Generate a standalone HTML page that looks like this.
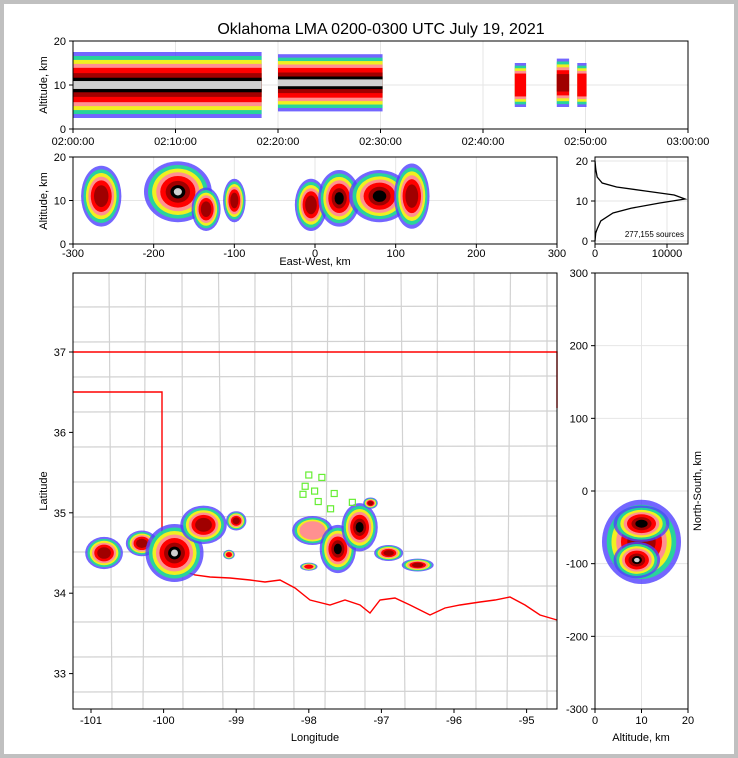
<!DOCTYPE html>
<html><head><meta charset="utf-8"><style>
body{margin:0;background:#fff}
svg{display:block;font-family:"Liberation Sans",sans-serif}
</style></head><body>
<svg id="s" width="738" height="758" xmlns="http://www.w3.org/2000/svg">
<rect x="2" y="2" width="734" height="754" fill="#fff" stroke="#c0c0c0" stroke-width="4"/>
<text x="381" y="34" font-size="16" text-anchor="middle">Oklahoma LMA 0200-0300 UTC July 19, 2021</text>
</svg>
<script>
const NS='http://www.w3.org/2000/svg';
const svg=document.getElementById('s');
function el(tag,attrs,parent,text){const e=document.createElementNS(NS,tag);for(const k in attrs)e.setAttribute(k,attrs[k]);if(text!==undefined)e.textContent=text;(parent||svg).appendChild(e);return e;}
const layerColors=['#5040ff','#20e090','#f0f020','#ff9090','#ff0000','#a00000','#000000','#d0d0d0'];
const layerOpacity=[0.8,0.9,1,1,1,1,1,1];
const layerScale=[1,0.88,0.76,0.64,0.52,0.36,0.22,0.12];

// ---- data ----
const timeMinutes=[0,10,20,30,40,50,60];
const timeTickLabels=['02:00:00','02:10:00','02:20:00','02:30:00','02:40:00','02:50:00','03:00:00'];
const segStart=[0,20,43.1,47.2,49.2];
const segEnd=[18.4,30.2,44.2,48.4,50.1];
const segAlt=[10,10.5,10,10.5,10];
const segHalf=[7.5,6.5,5,5.5,5];
const segLayers=[8,8,5,6,5];
const ewX=[-265,-170,-135,-100,-5,30,80,120];
const ewAlt=[11,12,8,10,9,10.5,11,11];
const ewRx=[25,42,18,14,20,26,38,22];
const ewRy=[7,7,5,5,6,6.5,6,7.5];
const ewLayers=[6,8,6,6,6,7,7,6];
const histAlt=[0,2,3,5,7,8.2,9.5,10.5,11.5,12.5,13.5,14.5,16,18,20];
const histCount=[0,100,300,800,2500,5000,9000,12500,11000,7000,3000,1000,300,100,0];
const nsAlt=[10,9,10];
const nsY=[-70,-95,-45];
const nsRx=[8.5,5,6];
const nsRy=[58,25,25];
const nsLayers=[6,8,7];
const mapLon=[-100.82,-100.3,-99.85,-99.45,-99.0,-99.1,-97.95,-97.6,-97.3,-97.15,-96.9,-96.5,-98.0];
const mapLat=[34.5,34.62,34.5,34.85,34.9,34.48,34.78,34.55,34.82,35.12,34.5,34.35,34.33];
const mapRx=[0.26,0.22,0.4,0.32,0.14,0.08,0.28,0.25,0.25,0.1,0.2,0.22,0.12];
const mapRy=[0.2,0.16,0.36,0.24,0.12,0.06,0.18,0.3,0.3,0.07,0.1,0.08,0.05];
const mapLayers=[6,6,8,6,6,5,4,7,7,6,6,6,5];
const stationLon=[-98.0,-97.82,-98.05,-97.92,-98.08,-97.65,-97.87,-97.4,-97.7];
const stationLat=[35.47,35.44,35.33,35.27,35.23,35.24,35.14,35.13,35.05];

// ---- scales ----
const tX=m=>73+m/60*615, tY=a=>129-a/20*88;
const ewXs=v=>315+v/600*484, ewY=a=>244-a/20*87;
const hX=c=>595+c/10000*72, hY=a=>241-a/20*80;
const lonX=l=>91+(l+101)*72.6, latY=l=>352-(l-37)*80.4;
const nsXs=a=>595+a/20*93, nsYs=v=>491-v/300*218;

function axesBox(x,y,w,h,name){el('rect',{x,y,width:w,height:h,fill:'none',stroke:'#000','stroke-width':1,});}
function tick(x1,y1,x2,y2){el('line',{x1,y1,x2,y2,stroke:'#000','stroke-width':1});}
function label(x,y,t,anchor,name,rot){const a={x,y,'font-size':11,'text-anchor':anchor||'middle',};if(rot)a.transform=`rotate(-90 ${x} ${y})`;return el('text',a,svg,t);}
function grid(x1,y1,x2,y2){el('line',{x1,y1,x2,y2,stroke:'#e6e6e6','stroke-width':1});}
function blob(cx,cy,rx,ry,n,name){const g=el('g',{});for(let i=0;i<n;i++){el('ellipse',{cx,cy,rx:rx*layerScale[i],ry:ry*layerScale[i],fill:layerColors[i],'fill-opacity':layerOpacity[i]},g);}}

// ---- panel 1: time-altitude ----
for(const m of timeMinutes)grid(tX(m),41,tX(m),129);
for(const a of [0,10,20])grid(73,tY(a),688,tY(a));
for(let i=0;i<segStart.length;i++){const g=el('g',{});
 for(let k=0;k<segLayers[i];k++){const s=layerScale[k];const h=segHalf[i]*s;
  el('rect',{x:tX(segStart[i]),y:tY(segAlt[i]+h),width:tX(segEnd[i])-tX(segStart[i]),height:tY(segAlt[i]-h)-tY(segAlt[i]+h),fill:layerColors[k],'fill-opacity':layerOpacity[k]},g);}}
axesBox(73,41,615,88,'time-height-axes');
timeMinutes.forEach((m,i)=>{tick(tX(m),129,tX(m),133);label(tX(m),145,timeTickLabels[i],'middle','time-tick');});
[0,10,20].forEach(a=>{tick(69,tY(a),73,tY(a));label(66,tY(a)+4,String(a),'end');});
label(47,85,'Altitude, km','middle','y-axis-title-time',true);

// ---- panel 2: east-west ----
for(const v of [-300,-200,-100,0,100,200,300])grid(ewXs(v),157,ewXs(v),244);
for(const a of [0,10,20])grid(73,ewY(a),557,ewY(a));
for(let i=0;i<ewX.length;i++)blob(ewXs(ewX[i]),ewY(ewAlt[i]),ewRx[i]/600*484,ewRy[i]/20*87,ewLayers[i],'ew-cluster-'+i);
axesBox(73,157,484,87,'east-west-axes');
[-300,-200,-100,0,100,200,300].forEach(v=>{tick(ewXs(v),244,ewXs(v),248);label(ewXs(v),257,String(v),'middle','ew-tick');});
[0,10,20].forEach(a=>{tick(69,ewY(a),73,ewY(a));label(66,ewY(a)+4,String(a),'end');});
label(315,265,'East-West, km','middle','x-axis-title-ew');
label(47,201,'Altitude, km','middle','y-axis-title-ew',true);

// ---- panel 3: histogram ----
for(const c of [0,10000])grid(hX(c),157,hX(c),244);
for(const a of [0,10,20])grid(595,hY(a),688,hY(a));
el('polyline',{points:histAlt.map((a,i)=>hX(histCount[i])+','+hY(a)).join(' '),fill:'none',stroke:'#000','stroke-width':1.3,});
axesBox(595,157,93,87,'histogram-axes');
[0,10000].forEach(c=>{tick(hX(c),244,hX(c),248);label(hX(c),257,String(c),'middle','hist-tick');});
[0,10,20].forEach(a=>{tick(591,hY(a),595,hY(a));label(588,hY(a)+4,String(a),'end');});
el('text',{x:684,y:237,'font-size':8,'text-anchor':'end',},svg,'277,155 sources');

// ---- panel 4: map ----
const mg=el('g',{});
for(let x=73+36;x<557;x+=36.5)el('line',{x1:x,y1:273,x2:x+((x*7)%9-4),y2:709,stroke:'#d2d2d2','stroke-width':1.2},mg);
for(let y=273+34;y<709;y+=35)el('line',{x1:73,y1:y,x2:557,y2:y+((y*5)%7-3),stroke:'#d2d2d2','stroke-width':1.2},mg);
const border='73,352 557,352 557,408 M73,392 162,392 162,560 175,568 195,575 210,577 230,578 250,580 265,582 280,580 295,588 310,600 330,605 345,600 360,605 370,613 380,600 395,598 410,605 430,615 445,608 460,605 480,602 495,600 510,597 525,605 540,615 557,620';
el('path',{d:'M'+border,fill:'none',stroke:'#ff0000','stroke-width':1.4,});
for(let i=0;i<mapLon.length;i++)blob(lonX(mapLon[i]),latY(mapLat[i]),mapRx[i]*72.6,mapRy[i]*80.4,mapLayers[i],'map-cluster-'+i);
for(let i=0;i<stationLon.length;i++){const r=el('rect',{x:lonX(stationLon[i])-3,y:latY(stationLat[i])-3,width:6,height:6,fill:'none',stroke:'#66ee33','stroke-width':1.2});
 
 }
axesBox(73,273,484,436,'map-axes');
[-101,-100,-99,-98,-97,-96,-95].forEach(l=>{tick(lonX(l),709,lonX(l),713);label(lonX(l),724,String(l),'middle','lon-tick');});
[33,34,35,36,37].forEach(l=>{tick(69,latY(l),73,latY(l));label(66,latY(l)+4,String(l),'end','lat-tick');});
label(315,741,'Longitude','middle','x-axis-title-map');
label(47,491,'Latitude','middle','y-axis-title-map',true);

// ---- panel 5: north-south ----
for(const a of [0,10,20])grid(nsXs(a),273,nsXs(a),709);
for(const v of [-300,-200,-100,0,100,200,300])grid(595,nsYs(v),688,nsYs(v));
for(let i=0;i<nsAlt.length;i++)blob(nsXs(nsAlt[i]),nsYs(nsY[i]),nsRx[i]/20*93,nsRy[i]/300*218,nsLayers[i],'ns-cluster-'+i);
axesBox(595,273,93,436,'north-south-axes');
[0,10,20].forEach(a=>{tick(nsXs(a),709,nsXs(a),713);label(nsXs(a),724,String(a),'middle','ns-alt-tick');});
[-300,-200,-100,0,100,200,300].forEach(v=>{tick(591,nsYs(v),595,nsYs(v));label(588,nsYs(v)+4,String(v),'end','ns-tick');});
label(641,741,'Altitude, km','middle','x-axis-title-ns');
label(701,491,'North-South, km','middle','y-axis-title-ns',true);
</script>
</body></html>
